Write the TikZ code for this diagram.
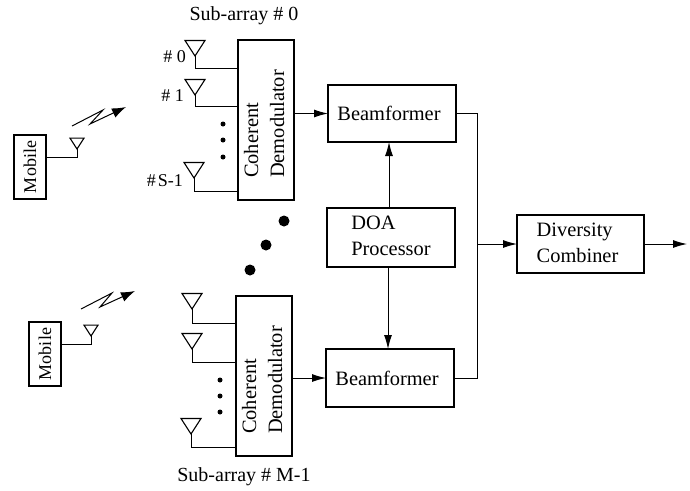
\documentclass[tikz,border=0pt]{standalone}
\usepackage{fontspec}
\setmainfont{Liberation Serif}
\usepackage{tikz}
\usetikzlibrary{arrows.meta}

\tikzset{
	wire/.style={line width=1pt},
	sig/.style={line width=1pt, -{Latex[length=14pt,width=8pt]}},
	box/.style={draw, line width=1.2pt, inner sep=0pt, outer sep=0pt, font=\fontsize{20.4}{26}\selectfont},
	lab/.style={inner sep=0pt, font=\fontsize{20}{24}\selectfont},
	numlab/.style={inner sep=0pt, anchor=east, font=\fontsize{18}{22}\selectfont},
}

\newcommand{\antenna}[4]{
	\coordinate (#1) at (#2,#3);
	\draw[line width=1.1pt] (#1)--++(-#4,-#4*1.55)--++(2*#4,0)--cycle;
}
\newcommand{\demodtext}{\rotatebox{90}{\begin{tabular}{@{}l@{\hspace{8pt}}}Coherent\\Demodulator\end{tabular}}}

\begin{document}
\begin{tikzpicture}[x=1pt,y=-1pt]

\useasboundingbox (0,0) rectangle (690,490);

\begin{scope}

\node[lab] (titleA) at (244,16) {Sub-array \# 0};

\node[box, minimum width=32pt, minimum height=64pt] (mobileA) at (30,167) {\rotatebox{90}{\fontsize{18}{22}\selectfont Mobile}};
\antenna{antM}{77}{149}{7}
\coordinate (feedM) at (46,157);
\draw[wire] (antM) |- (feedM);

\coordinate (boltA) at (72,126);
\draw[sig, -{Latex[length=14pt,width=10pt]}] (boltA)--++(31,-16)--++(-13,14)--++(36,-17);

\node[box, minimum width=56pt, minimum height=160pt] (demodA) at (266,120) {\demodtext};

\antenna{ant0}{195}{56}{10}
\coordinate (feed0) at (238,68);
\draw[wire] (ant0) |- (feed0);
\node[numlab] (num0) at (186,57) {\# 0};

\antenna{ant1}{195}{95}{10}
\coordinate (feed1) at (238,106);
\draw[wire] (ant1) |- (feed1);
\node[numlab] (num1) at (184,96) {\# 1};

\antenna{antS}{194}{178}{10}
\coordinate (feedS) at (238,191);
\draw[wire] (antS) |- (feedS);
\node[numlab] (numS) at (183,181) {\#\hspace{2pt}S-1};

\foreach \y in {124,140,157}{
	\fill (223,\y) circle (2.5pt);
}

\node[box, minimum width=128pt, minimum height=57pt] (beamA) at (392,113.5) {Beamformer\hspace*{6pt}};
\draw[sig] (beamA.west -| demodA.east)--(beamA.west);

\end{scope}

\foreach \a/\b in {284/221,266/245,250/270}{
	\fill (\a,\b) circle (5.5pt);
}

\begin{scope}

\node[box, minimum width=32pt, minimum height=64pt] (mobileB) at (45,354) {\rotatebox{90}{\fontsize{18}{22}\selectfont Mobile}};
\antenna{antN}{91}{336}{7}
\coordinate (feedN) at (61,344);
\draw[wire] (antN) |- (feedN);

\coordinate (boltB) at (81,309);
\draw[sig, -{Latex[length=14pt,width=10pt]}] (boltB)--++(31,-16)--++(-12,14)--++(35,-16);

\node[box, minimum width=56pt, minimum height=160pt] (demodB) at (264,376) {\demodtext};

\antenna{ant2}{192}{309}{10}
\coordinate (feed2) at (236,323);
\draw[wire] (ant2) |- (feed2);

\antenna{ant3}{192}{349}{10}
\coordinate (feed3) at (236,362);
\draw[wire] (ant3) |- (feed3);

\antenna{ant4}{191}{434}{10}
\coordinate (feed4) at (236,447);
\draw[wire] (ant4) |- (feed4);

\foreach \y in {380,396,412}{
	\fill (220,\y) circle (2.5pt);
}

\node[box, minimum width=128pt, minimum height=58pt] (beamB) at (390,378) {Beamformer\hspace*{6pt}};
\draw[sig] (beamB.west -| demodB.east)--(beamB.west);

\node[lab] (titleB) at (244,477) {Sub-array \# M-1};

\end{scope}

\node[box, minimum width=128pt, minimum height=59pt] (doa) at (391,237.5) {\begin{tabular}{@{}l@{}}DOA\\Processor\rule[-8.5pt]{0pt}{1pt}\end{tabular}};
\draw[sig] ([xshift=-2pt]doa.north)--([xshift=-3pt]beamA.south);
\draw[sig] ([xshift=-3pt]doa.south)--([xshift=-2pt]beamB.north);

\node[box, minimum width=127pt, minimum height=58pt] (combiner) at (580.5,244) {\begin{tabular}{@{}l@{\hspace{6pt}}}Diversity\\Combiner\rule[-4.5pt]{0pt}{1pt}\end{tabular}};
\coordinate (join) at (477,244);
\coordinate (output) at (687,244);
\draw[wire] (beamA.east) -| (join);
\draw[wire] (beamB.east) -| (join);
\draw[sig] (join)--(combiner.west);
\draw[sig] (combiner.east)--(output);

\end{tikzpicture}
\end{document}
